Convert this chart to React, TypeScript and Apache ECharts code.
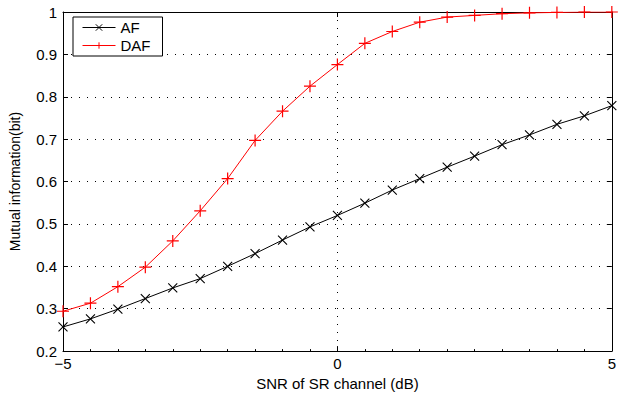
import React, { useEffect, useRef } from "react";
import * as echarts from "echarts";

const snr = [-5, -4.5, -4, -3.5, -3, -2.5, -2, -1.5, -1, -0.5, 0, 0.5, 1, 1.5, 2, 2.5, 3, 3.5, 4, 4.5, 5];
const af = [0.257, 0.276, 0.299, 0.324, 0.349, 0.371, 0.4, 0.43, 0.462, 0.493, 0.52, 0.549, 0.58, 0.607, 0.634, 0.66, 0.687, 0.71, 0.735, 0.755, 0.779];
const daf = [0.294, 0.313, 0.352, 0.398, 0.46, 0.531, 0.607, 0.697, 0.766, 0.825, 0.876, 0.926, 0.954, 0.976, 0.988, 0.992, 0.996, 0.998, 0.999, 1.0, 1.0];
const xTicks = [-5, 0, 5];
const yTicks = [0.2, 0.3, 0.4, 0.5, 0.6, 0.7, 0.8, 0.9, 1];

const FONT = "Liberation Sans, Arial, sans-serif";
const X_SYMBOL = "path://M0,0L10,10M10,0L0,10";
const PLUS_SYMBOL = "path://M5,0L5,10M0,5L10,5";

export default function App() {
  const ref = useRef<HTMLDivElement>(null);
  useEffect(() => {
    if (!ref.current) return;
    const chart = echarts.init(ref.current, undefined, { renderer: "svg" });
    const axisLine = { show: true, onZero: false, lineStyle: { color: "#000", width: 1 } };
    const tickIn = { show: true, inside: true, length: 5, lineStyle: { color: "#000" } };
    const grid = { show: true, lineStyle: { color: "#000", type: [1, 7], width: 1 } };
    chart.setOption({
      animation: false,
      backgroundColor: "#fff",
      grid: { left: 63, top: 12, width: 551, height: 348, containLabel: false },
      legend: {
        show: true,
        left: 73,
        top: 17,
        orient: "vertical",
        backgroundColor: "#fff",
        borderColor: "#000",
        borderWidth: 1,
        borderRadius: 0,
        padding: [3, 12, 3, 9],
        itemGap: 3,
        itemWidth: 33,
        itemHeight: 8,
        lineStyle: { width: 1 },
        itemStyle: { borderWidth: 1 },
        textStyle: { fontFamily: FONT, fontSize: 15, color: "#000" },
        data: ["AF", "DAF"],
      },
      xAxis: [
        {
          type: "value",
          min: -5,
          max: 5,
          interval: 5,
          name: "SNR of SR channel (dB)",
          nameLocation: "middle",
          nameGap: 24,
          nameTextStyle: { fontFamily: FONT, fontSize: 15, color: "#000" },
          axisLine,
          axisTick: tickIn,
          minorTick: { show: true, splitNumber: 10, length: 2, lineStyle: { color: "#000" } },
          axisLabel: {
            fontFamily: FONT,
            fontSize: 15,
            color: "#000",
            margin: 5,
            formatter: (v: number) => (xTicks.includes(v) ? (v < 0 ? "\u2212" + Math.abs(v) : String(v)) : ""),
          },
          splitLine: grid,
        },
        {
          type: "value",
          position: "top",
          min: -5,
          max: 5,
          interval: 5,
          axisLine,
          axisTick: tickIn,
          axisLabel: { show: false },
          splitLine: { show: false },
        },
      ],
      yAxis: [
        {
          type: "value",
          min: 0.2,
          max: 1,
          interval: 0.1,
          name: "Mutual information(bit)",
          nameLocation: "middle",
          nameGap: 41,
          nameTextStyle: { fontFamily: FONT, fontSize: 14, color: "#000" },
          axisLine,
          axisTick: tickIn,
          axisLabel: {
            fontFamily: FONT,
            fontSize: 15,
            color: "#000",
            margin: 6,
            formatter: (v: number) => {
              const r = Math.round(v * 10) / 10;
              return yTicks.includes(r) ? (r === 1 ? "1" : r.toFixed(1)) : "";
            },
          },
          splitLine: grid,
        },
        {
          type: "value",
          position: "right",
          min: 0.2,
          max: 1,
          interval: 0.1,
          axisLine,
          axisTick: tickIn,
          axisLabel: { show: false },
          splitLine: { show: false },
        },
      ],
      series: [
        {
          name: "AF",
          type: "line",
          data: snr.map((x, i) => [x, af[i]]),
          symbol: X_SYMBOL,
          symbolSize: 9,
          showAllSymbol: true,
          lineStyle: { color: "#000", width: 1 },
          itemStyle: { color: "#000", borderColor: "#000", borderWidth: 1.1 },
          emphasis: { disabled: true },
        },
        {
          name: "DAF",
          type: "line",
          data: snr.map((x, i) => [x, daf[i]]),
          symbol: PLUS_SYMBOL,
          symbolSize: 12,
          showAllSymbol: true,
          lineStyle: { color: "#ff0000", width: 1 },
          itemStyle: { color: "#ff0000", borderColor: "#ff0000", borderWidth: 1.2 },
          emphasis: { disabled: true },
        },
      ],
    });
    return () => chart.dispose();
  }, []);
  return <div ref={ref} style={{ width: 619, height: 396, position: "absolute", left: 0, top: 0 }} />;
}
